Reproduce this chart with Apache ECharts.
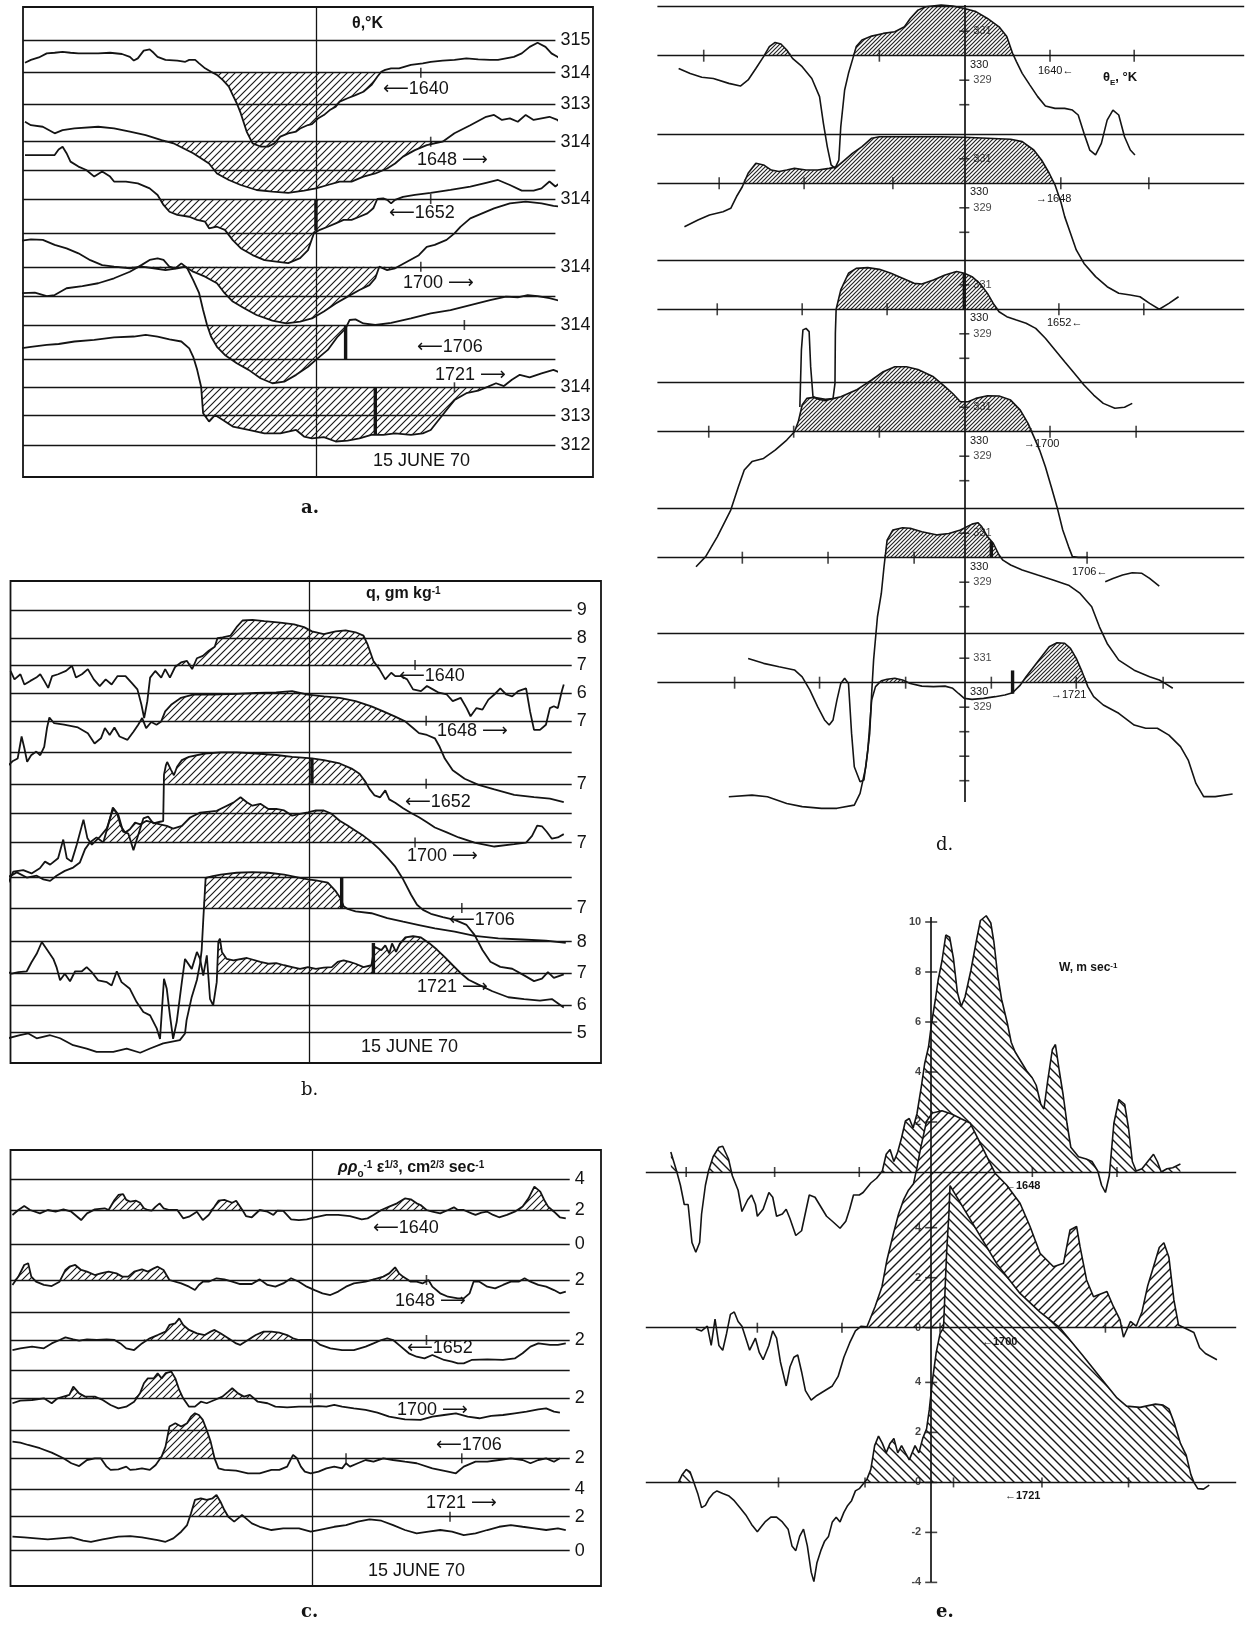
<!DOCTYPE html>
<html><head><meta charset="utf-8">
<script src="https://cdn.jsdelivr.net/npm/echarts@6/dist/echarts.min.js"></script>
<style>html,body{margin:0;padding:0;background:#fff}#c{width:1246px;height:1626px}</style>
</head><body><div id="c"></div><script>
// ---------------- DATA ----------------
const TIMES = ['1640','1648','1652','1700','1706','1721'];
const A_LABELS = ['315','314','313','314','','314','','314','','314','','314','313','312'];
const B_LABELS = ['9','8','7','6','7','','7','','7','','7','8','7','6','5'];
const C_LABELS = ['4','2','0','2','','2','','2','','2','4','2','0'];

// panel a: potential temperature (K)
const A_1640_X = [0.5,2,4,6,8,10,12,14,16,19,22,25,27,28,29,30.5,32,33,34,36,39,41,42,43.5,44.5,46,47.5,49,50.5,52,53,54,55,56.5,58,60,62,63.5,65,67,69,70,72,73,74.5,76,77.5,79,80,82,84,86,88,89.5,90.5,91.5,93,95,98,101,103,106,109,112,115,118,120,122,124,126,128,130,132,133.5,135,136.5];
const A_1640_T = [314.32,314.41,314.49,314.62,314.64,314.67,314.64,314.62,314.62,314.62,314.64,314.60,314.51,314.39,314.46,314.71,314.75,314.64,314.51,314.41,314.39,314.35,314.41,314.41,314.30,314.14,314.03,313.93,313.76,313.55,313.28,313.02,312.70,312.11,311.73,311.63,311.63,311.73,311.95,312.05,312.11,312.21,312.32,312.35,312.53,312.64,312.80,312.91,313.07,313.18,313.28,313.39,313.60,313.87,314.03,314.09,314.14,314.14,314.25,314.30,314.35,314.39,314.41,314.46,314.43,314.41,314.41,314.46,314.51,314.62,314.83,314.96,314.83,314.62,314.51,314.41];
const A_1648_X = [0.5,2,5,8,10,13,19,23,27,31,35,38,43,47,49,52,55,59,63,67,71,74,77,80,83,86,89,92,94,96,99,102,104,106,109,113,117,119,121,123,125,127,129,131,133,135,136.5];
const A_1648_T = [314.64,314.53,314.48,314.27,314.37,314.43,314.48,314.43,314.32,314.21,314.05,313.95,313.63,313.30,312.98,312.77,312.61,312.45,312.40,312.36,312.43,312.50,312.61,312.72,312.72,312.88,312.98,313.14,313.30,313.52,313.73,313.89,313.95,314.00,314.27,314.53,314.80,314.86,314.70,314.75,314.64,314.86,314.70,314.75,314.80,314.70,314.53];
const A_1652_X = [0.5,8,9,10,11,12,14,16,18,20,22,23,26,29,32,34,35.5,37,39,42,44,46,47,49,51,53,55,58,61,64,67,70,72,73.5,75,77,79,81,83,85,87,88.5,89.5,91,92,93,94,96,99,103,108,113,117,120,123,126,129,131,133,134.5,136.5];
const A_1652_T = [315.41,315.41,315.59,315.68,315.47,315.20,315.04,314.93,314.72,314.88,314.72,314.56,314.56,314.50,314.34,314.13,313.81,313.59,313.49,313.43,313.33,313.27,313.06,313.11,313.01,312.68,312.42,312.20,312.04,311.99,311.94,312.10,312.36,312.90,313.01,313.11,313.22,313.33,313.33,313.43,313.54,313.70,314.00,314.02,313.97,313.86,313.97,314.07,314.13,314.20,314.29,314.40,314.52,314.61,314.45,314.27,314.27,314.34,314.56,314.40,314.61];
const A_1700_X = [-0.5,2,5,8,11,14,17,20,23,27,30,33,36,39,41,43,46,49,51,53,56,59,63,66.5,70,73,76,79,82,85,87.5,89,90,90.5,92,94,97,100,102,104,107,109,110.5,113,116,119,123,127,131,134,136];
const A_1700_T = [314.83,314.88,314.86,314.70,314.59,314.43,314.21,314.05,314.0,313.95,314.0,313.95,313.89,313.95,314.0,313.84,313.68,313.47,313.14,312.88,312.66,312.45,312.27,312.18,312.24,312.34,312.56,312.82,313.04,313.25,313.41,313.63,314.0,314.05,313.89,313.95,314.16,314.37,314.64,314.70,314.86,315.07,315.28,315.55,315.71,315.87,316.03,316.09,316.03,315.95,315.93];
const A_1706_X = [-0.5,3,6,8,11,15,19,23,27,30,32,34,35.5,37,38.5,40,41.5,43,44.5,45.5,46.5,47.5,49,51,54,57,60,63,66,69,72,74,77,79.5,81.5,82.5,84,86,89,93,98,103,108,113,118,122,125,127.5,130,133,136.5];
const A_1706_T = [315.02,315.04,314.93,314.96,315.18,315.25,315.34,315.50,315.71,315.93,316.09,316.14,316.09,315.87,315.82,315.98,315.82,315.44,315.02,314.48,314.0,313.63,313.30,313.04,312.77,312.56,312.29,312.13,312.18,312.40,312.66,312.88,313.20,313.63,313.89,314.16,314.18,314.05,314.0,314.07,314.21,314.37,314.48,314.64,314.80,314.91,314.89,314.96,314.93,314.86,314.75];
const A_1721_X = [-0.5,2,6,9,13,18,23,28,31,34,37,40,42,43,44,45,45.5,47,48.5,50.5,53,57,61,65,69,71,73,76,79,82,85,88,91,94,98,101,103,105,107,109,112,115,117.5,119.5,121.5,123.5,125.5,128,131,134,136.5];
const A_1721_T = [315.25,315.30,315.36,315.39,315.47,315.52,315.60,315.63,315.68,315.63,315.54,315.47,315.25,314.98,314.56,314.02,313.17,312.90,313.11,312.95,312.74,312.63,312.52,312.52,312.63,312.42,312.36,312.40,312.26,312.29,312.36,312.47,312.47,312.52,312.47,312.52,312.63,312.95,313.27,313.59,313.81,313.89,314.02,314.13,314.04,314.24,314.40,314.32,314.45,314.56,314.43];
const A_TICKS = [[100.5],[103],[103],[100.5],[111.5],[109]];
const A_BARS = [null,null,[74,314,313.0],null,[81.5,314,312.9],[89,314,312.47]];

// panel b: specific humidity (g/kg)
const B_1640_X = [0,1,2.5,3.5,5,6.5,7.5,8.5,9.5,10.5,12,14,15.5,16.5,18,19.5,21,22.5,24,25.5,27,29,30.5,32,33,33.7,34.5,35.2,36.5,38,39,40.2,41.5,43,44.5,45.8,47,48.5,50,51.5,52.2,53.5,55.5,57,58.5,61,64,68,71.5,74,76,79,82,84.5,87,89,90,91.5,93,94.5,96,97,98.5,100,101.5,103.5,105,106.5,108,110,111.5,113.5,115,116,117.5,119,120.5,122,123.5,125,126.5,128,130,131,132,133.5,135,136,137,138,139,139.5];
const B_1640_Q = [6.80,6.52,6.69,6.35,6.47,6.58,6.69,6.47,6.24,6.63,6.69,6.80,6.97,6.58,6.69,6.86,6.52,6.30,6.52,6.35,6.63,6.63,6.41,6.19,5.69,5.24,5.80,6.58,6.80,6.58,6.86,6.58,6.93,7.08,7.13,6.86,7.22,7.30,7.47,7.60,7.89,7.91,7.97,8.25,8.47,8.49,8.45,8.40,8.34,8.25,8.11,8.02,8.11,8.14,8.08,7.97,7.69,7.13,6.86,6.52,6.74,6.63,6.63,6.52,6.19,6.13,6.30,6.19,6.08,6.02,5.80,5.91,5.57,5.30,5.57,5.52,5.85,6.02,6.22,6.02,5.96,6.13,6.22,5.46,4.85,4.85,5.02,5.57,5.63,5.57,6.13,6.35];
const B_1648_X = [-0.5,0.5,1.8,2.8,3.5,4.2,5.2,6.5,7.5,8.5,9.2,9.8,11,13.5,17,19.5,21.2,22.8,23.8,25,26.2,27.5,29.5,31,32.2,33.2,34.2,35.5,36.8,38,39,40.5,43,46,51,57,62,67,71,75,79,83,87,91,94,97,99.5,101.5,103,105,107,108.2,109.5,111.5,114.5,118,122,127,132,136,139.5];
const B_1648_Q = [5.53,5.66,5.75,6.48,6.09,5.64,5.86,5.98,5.86,6.14,6.76,7.11,6.92,6.87,6.78,6.59,6.25,6.42,6.76,6.53,6.78,6.48,6.37,6.64,6.87,7.09,6.76,6.96,6.87,6.98,7.31,7.53,7.76,7.87,7.87,7.89,7.92,7.94,7.98,7.87,7.81,7.76,7.65,7.48,7.31,7.14,6.98,6.76,6.59,6.53,6.42,6.14,5.75,5.36,5.08,4.88,4.73,4.55,4.47,4.42,4.31];
const B_1652_X = [-0.9,0.7,3.2,5.3,7.4,8.7,10,12,13.3,14.2,15.4,16.7,18.4,19.4,20.5,22.6,24.3,25.9,27.2,28.4,29.7,31,32.2,33.5,34.7,36,37.7,38.5,38.7,39.2,39.5,40.5,41.2,42,43.2,45,49,53,57,62,67,71,76,79,83,86,88,89.5,90.5,91.8,93.2,94.5,95.5,97,99,101,103,105,107,110,113,117,122,127,130,131.5,132.8,134,135.2,136.5,138,139.5];
const B_1652_Q = [3.62,4.09,4.14,4.03,4.20,4.42,4.32,4.53,5.15,4.53,4.42,4.98,5.81,5.19,4.98,5.25,5.52,6.18,5.96,5.41,5.35,4.80,5.30,5.85,5.91,5.69,5.74,5.76,7.30,7.62,7.72,7.45,7.28,7.56,7.78,7.89,8.00,8.04,8.04,8.00,7.95,7.89,7.84,7.78,7.67,7.50,7.33,7.06,6.83,6.61,6.55,6.78,6.48,6.37,6.19,6.03,5.89,5.72,5.55,5.39,5.22,5.05,4.92,5.00,5.05,5.27,5.61,5.59,5.41,5.18,5.22,5.33];
const B_1700_X = [-0.8,1.6,4.1,6.6,8.3,10,11.6,13.7,15.8,17.5,18.8,20,21.7,23.4,24.7,25.8,26.8,27.8,28.9,30.1,31.4,32.7,34.3,36,37.7,39.4,41,43.2,45.3,47.8,52,56.2,58,59.5,61,63,65,67,69,71,73,75,77,79,81,83,85,87,89,91,93,95,97,99,101,102.5,104,106,109,112,115,117,119,121,123.5,126.5,129.5,132,134,135.5,137,139.5];
const B_1700_Q = [5.84,6.01,5.84,5.90,5.78,5.73,5.90,6.06,6.17,6.34,6.78,7.00,7.17,7.00,7.61,8.16,7.99,7.55,7.33,7.44,7.66,7.60,7.72,7.66,7.60,7.55,7.46,7.55,7.83,7.99,8.05,8.32,8.50,8.34,8.22,8.28,8.11,8.11,8.06,7.89,7.95,8.00,8.06,8.06,7.95,7.72,7.56,7.39,7.22,7.02,6.78,6.50,6.20,5.78,5.27,4.94,4.77,4.64,4.53,4.44,4.27,3.94,3.44,3.05,2.88,2.82,2.60,2.41,2.49,2.71,2.52,2.63];
const B_1706_X = [-0.6,2.4,4.5,6.6,10,12.5,15.8,19.2,21.7,25.9,29.3,32.7,35.2,38.5,42.7,44,44.4,45.7,47,47.8,48.2,48.6,49.2,51,53,57,61,65,69,73,75,77,80,82,83.2,84,85,87,91,95,99,103,107,112,117,123,129,135,140];
const B_1706_Q = [2.69,2.79,2.85,2.69,2.79,2.69,2.46,2.35,2.24,2.24,2.35,2.21,2.35,2.52,2.63,2.85,3.29,4.06,4.62,5.17,5.61,6.60,8.00,8.06,8.11,8.17,8.19,8.17,8.11,8.00,7.95,7.92,7.84,7.56,7.33,7.06,6.97,6.89,6.83,6.67,6.55,6.44,6.33,6.22,6.08,6.00,5.96,5.92,5.85];
const B_1721_X = [-1,0.3,2,4.1,5.3,6.6,7.9,9.1,10.8,11.6,12.5,13.7,15,16.3,18,19.2,20.5,22.1,24.3,25.5,26.8,28,30.1,31.8,33.5,35.2,36.9,37.7,38.7,39.4,40.2,41,41.9,43.2,44,45.7,47,47.8,48.6,49.5,50.3,51.1,52,52.4,52.8,53.3,54.5,56.2,59.6,63,65,67,69,71,73,75,77,79,81,82.5,84,85.5,87,89,91,91.8,93.5,94.5,95.5,96.2,97.2,98.2,99.5,101.5,103.5,105.5,107.5,109.5,111.5,113.5,115.5,118,121.5,125.5,129.5,133.5,136.5,138,139.5];
const B_1721_Q = [7.06,6.98,7.03,7.06,7.36,7.64,8.03,7.80,7.47,7.20,6.76,6.98,6.73,7.06,7.06,7.20,7.03,6.76,6.70,6.59,7.06,6.70,6.48,6.04,5.71,5.60,5.16,4.82,6.81,6.48,5.60,4.82,5.38,6.70,7.47,7.14,7.70,7.47,6.92,7.59,6.15,5.93,6.70,8.03,8.14,7.70,7.47,7.42,7.50,7.37,7.31,7.33,7.26,7.20,7.14,7.20,7.14,7.18,7.20,7.37,7.42,7.37,7.31,7.20,7.26,7.87,7.76,7.92,7.65,7.98,7.70,7.98,8.18,8.22,8.18,8.00,7.78,7.53,7.26,7.00,6.78,6.62,6.40,6.20,6.14,6.09,6.14,6.00,5.86];
const B_TICKS = [[102],[104.8],[104.8],[102],[113.8],[]];
const B_BARS = [null,null,[76,7,7.84],null,[83.5,7,8.0],[91.5,7,8.0]];
const B_HATCH = [null,[[38,100]],[[38.5,92]],[[23,92]],[[48,84]],[[52.3,114]]];

// panel c: dissipation parameter
const C_1640_X = [0.5,2,3.5,5,7.5,9.5,11.5,13.5,15.5,18,19.5,21.5,24,25,26.5,27.5,28.7,29.5,30.5,32,33,34,35,36,37,38,39,40.5,42.5,44,45.5,47.5,49,50.5,52,53,54.5,56.5,57.5,59,60,61.5,63.5,65.5,67,68,69.5,71.5,73.5,75.5,77.5,80.5,83.5,86.5,89.5,91,92.5,94.5,96.5,98.5,100.5,102,103.5,104.5,106,107.5,109.5,111.5,113,114,115.5,117.5,118.5,120,121.5,123,124.5,126.5,128.5,130.5,132,133.5,135,136,137,138.5,140,141.5];
const C_1640_V = [1.68,2.00,2.26,2.00,1.78,2.00,1.89,2.04,1.89,1.35,1.78,2.04,2.11,2.00,2.65,2.97,3.03,2.65,2.54,2.60,2.47,2.11,2.00,1.96,2.22,2.43,2.11,2.00,2.00,1.46,1.57,1.89,1.35,1.68,2.22,2.60,2.65,2.47,2.60,2.04,1.61,1.53,2.00,1.89,1.68,1.96,1.94,1.40,1.35,1.40,1.53,1.68,1.68,1.61,1.40,1.46,1.68,2.00,2.22,2.43,2.75,2.69,2.43,2.32,2.00,1.89,1.78,2.00,2.17,2.00,2.00,1.78,1.68,1.83,1.89,1.68,1.53,1.68,1.89,2.22,2.75,3.51,3.19,2.65,2.22,1.89,1.53,1.46];
const C_1648_X = [0.5,2,3.5,4.5,5.3,6.5,8.5,10.5,12.5,14,15,16.5,18,19.5,21.5,23,25,27,28.5,30,31.5,33.5,35,36.5,37.5,39,40.5,43.5,45.5,47,48,49,50.5,52.5,54.5,56.5,58.5,61.5,63.5,65.5,67.5,69.5,71.5,73.5,75.5,77.5,79.5,81.5,83.5,85.5,87.5,90.5,93.5,95,96.5,98,99,100,102,103.5,105,106.5,107.5,109.5,111.5,114,115.5,117,118,119.5,121.5,123.5,125.5,127.5,129.5,131,132.5,134.5,136.5,138.5,140,141.5];
const C_1648_V = [1.68,2.22,2.97,3.08,2.22,1.89,1.68,1.61,1.89,2.65,2.86,2.97,2.65,2.54,2.32,2.43,2.54,2.43,2.22,2.22,2.54,2.69,2.54,2.75,2.86,2.65,2.00,1.78,1.57,1.35,1.68,1.89,1.89,2.11,2.04,1.89,1.74,1.74,2.04,1.68,1.57,1.78,2.11,1.89,1.57,1.35,1.14,1.03,1.25,1.57,1.78,1.89,2.11,2.22,2.43,2.82,2.43,2.22,1.89,1.89,1.78,2.00,1.57,1.14,0.92,0.81,0.81,1.14,1.89,1.89,1.57,1.46,1.68,1.89,1.89,2.11,1.89,1.68,1.57,1.35,1.14,1.25];
const C_1652_X = [0.5,2.5,5.5,8.5,10.5,12.5,14,16,17.5,19.5,22,24.5,26.5,28,29.5,31.5,33.5,35.5,37.5,39.5,40.5,42,43,44,45.5,47.5,49.5,51,52,53.5,55.5,57.5,58.5,60.5,62.5,64.5,66.5,68.5,70.5,72,73.5,76.5,77.5,79,81.5,84.5,87.5,90.5,92.5,94.5,96,97.5,99.5,101.5,103.5,105.5,107.5,110.5,112.5,114,115.5,117.5,121.5,125.5,128.5,130.5,132.5,134.5,137.5,139.5,141.5];
const C_1652_V = [1.35,1.46,1.57,1.46,1.78,2.00,2.17,2.04,1.96,2.04,2.00,2.04,2.00,1.78,1.46,1.35,1.78,2.11,2.32,2.54,2.97,3.08,3.40,2.97,2.65,2.43,2.32,2.54,2.65,2.43,2.11,1.78,1.68,2.00,2.32,2.54,2.54,2.47,2.32,2.11,2.00,2.00,1.96,1.68,1.46,1.35,1.35,1.57,1.78,2.00,2.11,2.00,1.57,1.14,0.92,0.81,1.03,0.71,0.60,0.49,0.49,0.71,0.75,0.71,0.81,1.14,1.57,1.78,1.68,1.68,1.78];
const C_1700_X = [0.5,2.5,5.5,8.5,10.5,12,13.5,15,16,17.5,19,21.5,23.5,25.5,27.5,29.5,31.5,33,34,35,36.5,37.5,38.5,39.5,41,42,43,44,45.5,47,48.5,50,52,54,55.5,56.5,58,59.5,61,62,63,65.5,67.5,70.5,73.5,76.5,78.5,80.5,82.5,84.5,87.5,90.5,93.5,96.5,100.5,104.5,107.5,110.5,113.5,116.5,119.5,122.5,125.5,128.5,131.5,134.5,136.5,138.5,140];
const C_1700_V = [1.68,1.85,1.89,2.00,1.68,2.00,2.11,2.22,2.75,2.32,2.11,2.11,1.89,1.57,1.35,1.46,1.78,2.32,2.97,3.29,3.29,3.62,3.29,3.62,3.72,3.29,2.54,2.00,1.46,1.46,1.78,1.68,1.89,2.11,2.43,2.65,2.32,2.11,2.22,2.00,1.78,1.68,1.46,1.42,1.46,1.46,1.50,1.46,1.57,1.46,1.35,1.25,1.07,0.81,0.64,0.60,0.81,0.92,1.03,0.81,0.71,0.86,0.92,1.03,1.14,1.29,1.35,1.14,1.07];
const C_1706_X = [0.5,2.5,4.5,7.5,10.5,13.5,15.5,17.5,19.5,21.5,23,24.5,25.5,27.5,29.5,30.5,32,33.5,35.5,37,38.5,39.5,40.5,42,43.5,45,46,47,48,49,50,51,52,53,54.5,57.5,60.5,63.5,66.5,68.5,70.5,72,73,74,75,76.5,78.5,80.5,82.5,84.5,85.5,86.5,88.5,90.5,92.5,95,97.5,100.5,103.5,107.5,111.5,113.5,115.5,118.5,121.5,124.5,127.5,130.5,132.5,134.5,136.5,138.5,140];
const C_1706_V = [3.08,3.01,2.86,2.65,2.37,2.00,1.68,1.50,1.89,2.00,2.00,1.46,1.25,1.29,1.46,1.25,1.29,1.35,1.25,1.57,2.11,2.75,4.05,4.26,4.05,4.26,4.69,4.91,4.80,4.48,3.83,3.08,2.00,1.35,1.25,1.20,1.03,1.03,1.25,1.25,1.46,2.22,2.00,1.46,1.14,1.03,1.14,1.35,1.46,1.35,1.68,1.46,1.68,1.89,1.78,2.00,1.89,1.78,1.68,1.35,1.14,1.03,1.46,1.78,1.78,1.89,2.00,1.89,1.68,1.89,2.00,1.78,2.00];
const C_1721_X = [0.5,3.5,6.5,9.5,12.5,15.5,18.5,20.5,23.5,27.5,30.5,33.5,37.5,39.5,41.5,43.5,45,46,47,48.5,50,51.5,52.5,53.5,54.5,55.5,57,58,59,60,61.5,63.5,66.5,69.5,73.5,76.5,78.5,82.5,85.5,88.5,91.5,94.5,97.5,100.5,103.5,106.5,109.5,112.5,115.5,118.5,121.5,124.5,127.5,130.5,133.5,136.5,139.5,141.5];
const C_1721_V = [0.71,0.66,0.60,0.53,0.60,0.66,0.45,0.38,0.53,0.71,0.75,0.66,0.49,0.38,0.60,1.03,1.46,2.22,3.08,3.19,3.08,3.19,3.40,2.97,2.43,2.00,1.68,1.89,2.11,1.89,1.57,1.35,1.14,1.25,1.25,1.03,1.14,1.35,1.46,1.68,1.83,1.74,1.46,1.14,0.92,1.03,1.14,1.03,0.81,0.92,1.14,1.35,1.46,1.35,1.25,1.14,1.25,1.14];
const C_TICKS = [[],[106],[106],[76.5],[85.5,115],[112]];
const C_HATCH = [[[25,35],[51.5,59],[94.5,106],[129,137.5]],[[0,6],[13,41],[93,101]],[[35,58],[60,74]],[[13,22],[32,44.5],[54,63]],[[38,52.5]],[[45,56]]];

// panel d: equivalent potential temperature (K)
const D_1640_X = [5.5,8.5,11.5,14.5,18.5,21.5,23.5,25.5,27.5,29,30.5,32,33.5,35,37.5,40,42,43,44,45,46,47,47.5,48.5,49.5,50.5,51.5,53,55.5,58.5,61.5,64,65.5,67.5,69.5,73.5,76.5,79.5,82.5,85.5,88.5,90.5,92,93,94.5,96.5,98.5,100.5,103,105.5,107.5,109,110.5,112,113.5,115,116.5,118,119.5,121,122.5,123.7];
const D_1640_T = [329.48,329.27,329.12,329.07,328.87,328.76,329.01,329.48,329.96,330.37,330.54,330.48,330.23,329.89,329.55,329.07,328.33,327.24,326.29,325.54,325.40,325.74,327.10,328.60,329.28,329.82,330.37,330.64,330.80,330.91,330.98,331.18,331.52,331.86,332.00,332.07,332.03,331.93,331.80,331.52,331.18,330.78,330.10,329.76,329.28,328.80,328.33,327.95,327.85,327.85,327.78,327.58,326.83,326.15,325.95,326.42,327.37,327.78,327.58,326.69,326.15,325.95];
const D_1648_X = [7,10.5,13.5,17,19,20.5,22,23.5,25.5,27.5,29.5,31.5,33.5,35.5,38.5,41.5,44.5,46.5,48.5,50.5,53,55.5,57.5,65.5,73.5,79.5,85.5,91.5,94.5,97.5,99.5,101.5,103,104.5,105.5,107,108.5,110.5,113.5,116.5,119.5,122.5,125,127.5,130,132.5,135];
const D_1648_T = [328.23,328.50,328.71,328.84,328.98,329.46,329.86,330.41,330.82,330.75,330.54,330.48,330.54,330.61,330.54,330.54,330.61,330.68,330.95,331.22,331.50,331.84,331.90,331.90,331.90,331.88,331.84,331.80,331.70,331.36,330.95,330.41,329.93,329.25,328.64,327.96,327.28,326.73,326.19,325.78,325.51,325.44,325.37,325.10,324.86,325.10,325.37];
const D_1652_X = [36.9,37.3,37.7,38.5,39.3,39.7,40.3,41.5,43.5,45.5,46,46.1,46.3,47.5,49.5,51.5,54.5,57.5,60.5,63.5,66.5,68.5,71.5,74.5,77.5,79.5,81.5,83.5,85.5,87,88.5,90.5,93,95.5,98,100.5,103,105.5,108,110.5,113,115.5,118.5,121,123];
const D_1652_T = [326.01,328.34,329.16,329.22,329.09,327.66,326.44,326.34,326.27,326.37,326.98,329.02,330.00,330.79,331.47,331.67,331.70,331.63,331.47,331.27,331.06,331.03,331.20,331.40,331.54,331.47,331.33,331.06,330.65,330.24,329.90,329.70,329.56,329.43,329.22,328.82,328.34,327.86,327.39,326.91,326.50,326.16,325.96,326.00,326.16];
const D_1700_X = [10,12.5,15.5,19,21,22.5,24.5,27.5,30.5,33.5,35.5,36.5,37.5,38.7,40.5,43.5,45.5,47.5,51.5,55.5,58.5,61.5,64.5,67.5,71.5,74.5,76.5,78.5,80.5,82.5,85.5,88.5,91.5,94,96,97.5,99,100.5,102,103.5,105,106.5,107.5,109,111.5];
const D_1700_T = [324.49,324.90,325.71,326.80,327.76,328.44,328.78,328.91,329.25,329.66,330.00,330.41,331.09,331.36,331.40,331.32,331.35,331.43,331.70,332.11,332.45,332.65,332.65,332.54,332.24,331.84,331.56,331.22,331.22,331.36,331.47,331.46,331.29,330.88,330.34,329.80,329.25,328.57,327.76,326.94,325.99,325.31,324.90,324.87,324.87];
const D_1700B_X = [116,118,120.5,123,125.5,127.5,130];
const D_1700B_T = [323.88,324.01,324.15,324.24,324.22,324.01,323.70];
const D_1706_X = [18.5,24.5,28.5,33.5,37.5,42.5,46.5,51,52.5,54,55,55.5,56,57,58,58.7,59.5,61,63.5,65.5,68.5,72.5,75.5,78.5,81.5,83,84,85.5,87,88.5,89.5,91.5,94.5,98.5,102.5,106.5,109.5,112.5,114.5,116.5,119.5,123.5,127.5,130,131.5,133.5];
const D_1706_T = [320.24,320.31,320.24,319.97,319.84,319.77,319.77,319.90,320.38,321.47,322.83,324.46,325.82,327.59,328.54,329.63,330.72,331.13,331.22,331.20,331.06,330.93,330.99,331.13,331.37,331.43,331.27,330.86,330.59,330.11,329.90,329.70,329.50,329.29,329.09,328.88,328.54,328.00,327.18,326.50,325.82,325.41,325.14,325.01,324.87,324.67];
const D_1721_X = [23.5,27.5,31.5,35.5,37.5,39.5,41.5,43.3,44.5,45.5,46.5,47.5,48.5,49.5,50.3,51,52.5,53.5,54.5,55.5,56.5,58,59.5,61.5,63.5,65.5,68.5,71.5,74.5,76.5,78,79.5,81.5,84.5,87.5,90,92,94,95.5,97.5,99.5,101.5,103.5,105.5,107,108.5,110,111.5,113,115.5,119.5,123.5,126.5,129.5,132.5,135.5,137.5,139.5,141.5,144.5,149];
const D_1721_T = [330.99,330.79,330.65,330.52,330.24,329.70,329.02,328.48,328.27,328.48,329.29,329.97,330.18,329.97,327.93,326.57,325.96,326.03,327.25,329.29,329.84,330.08,330.14,330.18,330.11,329.97,329.86,329.84,329.86,329.77,329.56,329.36,329.32,329.36,329.43,329.50,329.59,329.90,330.24,330.65,331.06,331.47,331.63,331.61,331.40,330.99,330.45,329.84,329.43,329.09,328.75,328.27,328.14,328.14,327.86,327.39,326.84,325.89,325.35,325.35,325.46];
const D_TICKS = [[12,57.5,101.7,123.5],[16,38,61,104.5,127.3],[15.5,37.5,59.5,104,126],[13.3,35.3,57.5,101.7,124],[22,44.2,66.5,111.3],[20,42,64.3,86.5,108.5,131]];
const D_BARS = [null,null,[79.5,330,331.47],null,[86.5,330,330.65],[92,329.55,330.5]];
const D_HATCH = [null,null,null,null,null,[[57,65],[94,112]]];
const D_AXIS = [[331,329,328],[331,329,328],[331,329,328],[331,329,328],[331,329,328],[331,329,328,327,326]];

// panel e: vertical velocity (m/s)
const E_TIMES = ['1648','1700','1721'];
const E_1648_X = [6.5,8,9,10,11,12,13,14,14.5,15.5,16.3,17.5,19,20,21.5,22.5,24,25,26.5,27.5,28.5,29,30.5,32,33,34,35.5,36.5,37.5,39,40.5,41.7,42.5,44,45.5,47,48.5,50.5,52,53,54,55.5,56.5,57.5,58.5,60,61.5,62.5,63.5,64.5,65.5,66.5,67.5,68.5,69.5,70.5,71.5,72.5,73.5,74.3,75.3,76,77,78,79,80,81,82,83,84.5,86,87,88.5,89.7,90.5,91.5,92.5,94,95,96,97.5,99,100.5,101.5,102.7,103.5,104.5,105.7,106.5,107.5,108.5,109.5,110.5,112.5,114.5,116,117.5,118.5,119.5,120.5,121.7,123,124.5,125.5,126.5,127.5,129,130.5,132,133,134,135.5,137,139];
const E_1648_W = [0.80,0.04,-0.53,-1.30,-1.30,-2.82,-3.21,-2.82,-1.68,-0.53,0.04,0.61,0.99,1.03,0.52,-0.15,-0.73,-1.58,-1.11,-0.92,-1.30,-1.77,-1.49,-0.82,-1.01,-1.77,-1.68,-1.49,-1.87,-2.54,-2.35,-1.49,-0.92,-1.01,-1.39,-1.77,-1.97,-2.25,-1.97,-1.49,-0.92,-0.92,-0.82,-0.63,-0.44,-0.25,0.04,0.71,0.90,0.42,0.80,1.37,2.04,2.14,1.76,2.33,3.28,4.33,5.00,5.95,6.91,7.67,8.44,9.48,9.39,8.53,7.19,6.62,7.00,8.05,9.29,10.06,10.25,9.96,9.20,7.86,6.91,5.95,5.19,4.81,4.43,4.05,3.76,3.47,2.71,2.52,3.66,4.90,5.10,4.05,3.09,1.95,0.99,0.61,0.52,0.42,0.04,-0.53,-0.82,-0.15,1.95,2.90,2.71,1.76,0.42,0.04,0.13,0.42,0.71,0.42,0.00,0.13,0.17,0.32];
const E_1700_X = [13,14.5,16,17,18,19,20,21,22,23,24,25,26,27,28.5,29.5,30.5,32,33,34,35,36.5,37.5,38.5,39.5,40.5,41.5,43,44.5,46.5,48.5,50,51.5,53,54.5,56,57.5,59.6,61.4,62.7,64.4,65.7,67,68.3,69.6,70.4,71.5,73,74.5,77,79.5,82,84.3,87.5,90.8,93.8,97.3,99.9,102.5,106,108.6,110.3,112,112.9,114.6,116.4,119.9,121.6,123.3,124.2,126,127.5,129,130.5,132,133.5,134.7,136,137.3,138.5,140.5,142.5,144,145.5,148.5];
const E_1700_W = [-0.04,-0.13,0.06,-0.71,0.34,-0.71,-0.90,-0.23,0.53,0.63,0.25,0.06,-0.42,-0.90,-0.42,-0.99,-1.28,-0.71,-0.13,-0.42,-1.37,-2.33,-1.56,-1.18,-1.09,-1.76,-2.52,-2.90,-2.71,-2.52,-2.33,-1.95,-1.18,-0.61,-0.13,0.06,0.04,0.84,1.64,2.71,3.78,4.54,5.11,5.50,5.76,6.32,7.21,8.26,8.59,8.68,8.55,8.36,8.19,7.21,6.18,5.71,4.98,4.05,2.98,2.44,2.58,3.91,4.05,3.24,1.91,1.24,1.45,0.84,0.31,-0.38,0.25,0.06,0.63,1.68,2.44,3.21,3.40,2.82,1.11,0.11,-0.04,-0.19,-0.80,-1.03,-1.28];
const E_1721_X = [8.5,9.5,10.5,11.5,12.5,13.5,14.5,15.5,16.5,17.5,18.5,20,21.5,23,24.5,26,27.5,29,30,31,32.5,34,35.5,37,38,39,40,41,42,43,43.7,44.5,45.5,46.5,47.5,48.5,49.5,50.5,51.5,52.5,53.5,54.5,55.5,56.5,57.5,58.5,59.5,60.5,61.5,62.5,63.5,64.5,65.5,66.5,67.5,68.5,70,71,72,73,73.7,74.5,75.5,76.5,77.4,78.2,78.8,79.1,91.2,97.3,102.5,107.7,113.5,118.5,122.5,125,128.5,132.5,134.5,136,137.5,139,140.5,141.7,142.5,143.5,145,146.5];
const E_1721_W = [0,0.32,0.52,0.42,0,-0.44,-1.01,-0.92,-0.63,-0.44,-0.34,-0.44,-0.53,-0.73,-1.01,-1.30,-1.68,-1.97,-1.77,-1.58,-1.39,-1.39,-1.58,-1.87,-2.54,-2.73,-2.16,-1.87,-2.54,-3.59,-3.97,-3.21,-2.73,-2.35,-2.16,-1.58,-1.39,-1.58,-1.20,-0.92,-0.73,-0.34,-0.25,-0.06,0.13,0.52,1.47,1.85,1.56,1.18,1.56,1.76,1.18,1.47,1.18,0.90,1.47,1.18,1.76,2.14,2.90,4.05,5.19,5.95,6.18,9.16,10.73,11.87,8.76,7.56,6.81,6.18,5.10,4.14,3.38,3.05,3.00,3.13,3.09,2.94,2.33,1.56,1.09,0.32,0,-0.25,-0.27,-0.11];
const E_TICKS = [[10.5,33.5,55.5,100.5,122.5],[29,51,76.5,119.5],[34.5,57,80,103,125.5]];
const E_AXIS = [[10,8,6,4,2],[4,2,0],[4,2,0,-2,-4]];
const E_HATCH = [null,[[57,139]],null];

// ---------------- BUILD ----------------
const FONT = "'Liberation Sans','DejaVu Sans',sans-serif";
const INK = '#141414';
const grids = [], xAxes = [], yAxes = [], series = [], graphics = [];

function hatch(tile, dir, lw, col, bg) {
  const c = document.createElement('canvas');
  c.width = tile; c.height = tile;
  const g = c.getContext('2d');
  if (bg) { g.fillStyle = bg; g.fillRect(0, 0, tile, tile); }
  g.strokeStyle = col; g.lineWidth = lw;
  g.beginPath();
  if (dir > 0) {
    g.moveTo(-1, tile + 1); g.lineTo(tile + 1, -1);
    g.moveTo(-2, 2); g.lineTo(2, -2);
    g.moveTo(tile - 2, tile + 2); g.lineTo(tile + 2, tile - 2);
  } else {
    g.moveTo(-1, -1); g.lineTo(tile + 1, tile + 1);
    g.moveTo(tile - 2, -2); g.lineTo(tile + 2, 2);
    g.moveTo(-2, tile - 2); g.lineTo(2, tile + 2);
  }
  g.stroke();
  return { image: c, repeat: 'repeat' };
}
function inIv(x, iv) { return !iv || iv.some(r => x >= r[0] && x <= r[1]); }

function addTrace(xi, gi, yMin, yMax, tr, o) {
  const yi = yAxes.length;
  yAxes.push({ gridIndex: gi, type: 'value', min: yMin, max: yMax, show: false });
  const n = Math.min(tr.x.length, tr.v.length);
  const d = [], h = [];
  for (let i = 0; i < n; i++) {
    const dv = tr.v[i] - o.base;
    d.push([tr.x[i], dv]);
    const hv = inIv(tr.x[i], tr.hatch) ? (o.below ? Math.min(dv, 0) : Math.max(dv, 0)) : 0;
    h.push([tr.x[i], hv]);
  }
  series.push({ type: 'line', xAxisIndex: xi, yAxisIndex: yi, data: h, symbol: 'none', showSymbol: false, clip: false, silent: true,
    lineStyle: { width: 0, opacity: 0 }, areaStyle: { color: tr.pattern, opacity: 1 }, z: 1, animation: false });
  const ls = { type: 'line', xAxisIndex: xi, yAxisIndex: yi, data: d, symbol: 'none', showSymbol: false, clip: false, silent: true,
    lineStyle: { color: INK, width: o.lw || 1.8 }, z: 4, animation: false };
  if (o.hlines) ls.markLine = { silent: true, symbol: ['none', 'none'], animation: false, label: { show: false },
    lineStyle: { color: INK, width: 1.4, type: 'solid' }, data: o.hlines.map(v => ({ yAxis: v })) };
  series.push(ls);
  (tr.extra || []).forEach(seg => {
    series.push({ type: 'line', xAxisIndex: xi, yAxisIndex: yi, data: seg.x.map((x, i) => [x, seg.v[i] - o.base]),
      symbol: 'none', clip: false, silent: true, lineStyle: { color: INK, width: o.lw || 1.8 }, z: 4, animation: false });
  });
  if (tr.ticks && tr.ticks.length) series.push({ type: 'scatter', xAxisIndex: xi, yAxisIndex: yi, data: tr.ticks.map(t => [t, 0]),
    symbol: 'rect', symbolSize: [1.6, o.tickLen || 10], itemStyle: { color: INK }, silent: true, clip: false, z: 5, animation: false });
  if (tr.bar) series.push({ type: 'line', xAxisIndex: xi, yAxisIndex: yi,
    data: [[tr.bar[0], tr.bar[1] - o.base], [tr.bar[0], tr.bar[2] - o.base]], symbol: 'none', clip: false, silent: true,
    lineStyle: { color: INK, width: 3.4 }, z: 5, animation: false });
  if (tr.axisTicks) series.push({ type: 'scatter', xAxisIndex: xi, yAxisIndex: yi, clip: false,
    data: tr.axisTicks.map(t => ({ value: [o.center, t.v - o.base], label: { show: !!t.label, formatter: t.label || ' ' } })),
    symbol: 'rect', symbolSize: [o.axisTickW || 10, 1.6], itemStyle: { color: INK }, silent: true, z: 5, animation: false,
    label: { position: o.axisLabelPos, distance: 4, color: INK, fontSize: o.axisFont || 11, fontWeight: o.axisBold ? 'bold' : 'normal', fontFamily: FONT } });
  return yi;
}

function buildLined(p) {
  const gi = grids.length, xi = xAxes.length;
  const top = p.box[1], bottom = p.box[3];
  grids.push({ left: p.box[0], top: top, width: p.right - p.box[0], height: bottom - top });
  xAxes.push({ gridIndex: gi, type: 'value', min: 0, max: p.xMax, show: false });
  const line0 = p.linePx[0];
  const sp = (p.linePx[p.linePx.length - 1] - line0) / (p.linePx.length - 1);
  const pos = p.linePx.map(y => (y - line0) / sp);
  const T = (top - line0) / sp, B = (bottom - line0) / sp;
  const mainY = yAxes.length;
  yAxes.push({ gridIndex: gi, type: 'value', inverse: true, min: T, max: B, show: false });
  const ml = p.labels.map((t, i) => t ? { yAxis: pos[i], label: { show: true, formatter: t } } : { yAxis: pos[i], label: { show: false } });
  ml.push({ xAxis: p.center, label: { show: false } });
  series.push({ type: 'line', xAxisIndex: xi, yAxisIndex: mainY, data: [[0, 0]], symbol: 'none', showSymbol: false,
    lineStyle: { opacity: 0 }, silent: true, z: 5, animation: false,
    markLine: { silent: true, symbol: ['none', 'none'], animation: false,
      lineStyle: { color: INK, width: 1.3, type: 'solid' },
      label: { show: true, position: 'end', distance: 5, color: INK, fontSize: 18, fontFamily: FONT },
      data: ml } });
  graphics.push({ type: 'rect', shape: { x: p.box[0], y: p.box[1], width: p.box[2] - p.box[0], height: p.box[3] - p.box[1] },
    style: { fill: 'none', stroke: INK, lineWidth: 1.8 }, silent: true, z: 10 });
  p.traces.forEach((tr, k) => {
    const L = pos[p.baseLines[k]];
    tr.pattern = p.pattern;
    addTrace(xi, gi, (L - B) * p.upl, (L - T) * p.upl, tr, { base: p.base, below: p.below });
  });
}

function buildFree(p) {
  const gi = grids.length, xi = xAxes.length;
  grids.push({ left: p.left, top: p.top, width: p.right - p.left, height: p.bottom - p.top });
  xAxes.push({ gridIndex: gi, type: 'value', min: 0, max: p.xMax, show: false });
  const mainY = yAxes.length;
  yAxes.push({ gridIndex: gi, type: 'value', min: 0, max: 1, show: false });
  series.push({ type: 'line', xAxisIndex: xi, yAxisIndex: mainY, data: [[0, 0]], symbol: 'none', showSymbol: false,
    lineStyle: { opacity: 0 }, silent: true, z: 5, animation: false,
    markLine: { silent: true, symbol: ['none', 'none'], animation: false, label: { show: false },
      lineStyle: { color: INK, width: 1.7, type: 'solid' }, data: [{ xAxis: p.center }] } });
  p.traces.forEach((tr, k) => {
    const yb = p.baseY[k];
    addTrace(xi, gi, -(p.bottom - yb) / p.s, (yb - p.top) / p.s, tr,
      { base: p.base, below: false, hlines: p.hlines, center: p.center, axisLabelPos: p.axisLabelPos,
        axisTickW: p.axisTickW, axisFont: p.axisFont, axisBold: p.axisBold, tickLen: p.tickLen, lw: p.lw });
  });
}

// ---- panel a ----
const patA = hatch(7, 1, 1.15, '#1a1a1a');
buildLined({ box: [23, 7, 593, 477], right: 555.4, xMax: 134.5, center: 74, labels: A_LABELS,
  linePx: [40, 72.7, 104.3, 141.7, 170, 199, 233.3, 266.7, 296, 325, 359, 387.3, 415.7, 445],
  base: 314, upl: 1, below: true, pattern: patA, baseLines: [1, 3, 5, 7, 9, 11],
  traces: [
    { x: A_1640_X, v: A_1640_T, ticks: A_TICKS[0], bar: A_BARS[0] },
    { x: A_1648_X, v: A_1648_T, ticks: A_TICKS[1], bar: A_BARS[1] },
    { x: A_1652_X, v: A_1652_T, ticks: A_TICKS[2], bar: A_BARS[2] },
    { x: A_1700_X, v: A_1700_T, ticks: A_TICKS[3], bar: A_BARS[3] },
    { x: A_1706_X, v: A_1706_T, ticks: A_TICKS[4], bar: A_BARS[4] },
    { x: A_1721_X, v: A_1721_T, ticks: A_TICKS[5], bar: A_BARS[5] }] });

// ---- panel b ----
const patB = hatch(7, 1, 1.15, '#1a1a1a');
const bSeries = [[B_1640_X, B_1640_Q], [B_1648_X, B_1648_Q], [B_1652_X, B_1652_Q], [B_1700_X, B_1700_Q], [B_1706_X, B_1706_Q], [B_1721_X, B_1721_Q]];
buildLined({ box: [10.5, 581, 601, 1063], right: 571.7, xMax: 141.5, center: 75.3, labels: B_LABELS,
  linePx: [609.8, 638.0, 664.9, 692.9, 720.8, 752.7, 783.7, 812.9, 842.5, 876.9, 908.1, 941.8, 973.1, 1004.7, 1032.6],
  base: 7, upl: 1, below: false, pattern: patB, baseLines: [2, 4, 6, 8, 10, 12],
  traces: bSeries.map((s, k) => ({ x: s[0], v: s[1], ticks: B_TICKS[k], bar: B_BARS[k], hatch: B_HATCH[k] })) });

// ---- panel c ----
const patC = hatch(7, 1, 1.15, '#1a1a1a');
const cSeries = [[C_1640_X, C_1640_V], [C_1648_X, C_1648_V], [C_1652_X, C_1652_V], [C_1700_X, C_1700_V], [C_1706_X, C_1706_V], [C_1721_X, C_1721_V]];
buildLined({ box: [10.5, 1150, 601, 1586], right: 569.7, xMax: 142.5, center: 77, labels: C_LABELS,
  linePx: [1179.3, 1210, 1244.3, 1280, 1311.7, 1340, 1370, 1398.3, 1430, 1458.3, 1489.3, 1516.7, 1550.7],
  base: 2, upl: 2, below: false, pattern: patC, baseLines: [1, 3, 5, 7, 9, 11],
  traces: cSeries.map((s, k) => ({ x: s[0], v: s[1], ticks: C_TICKS[k], hatch: C_HATCH[k] })) });

// ---- panel d ----
const patD = hatch(4, 1, 1.2, '#262626');
const dSeries = [[D_1640_X, D_1640_T], [D_1648_X, D_1648_T], [D_1652_X, D_1652_T], [D_1700_X, D_1700_T], [D_1706_X, D_1706_T], [D_1721_X, D_1721_T]];
buildFree({ left: 657.4, right: 1244.2, top: 5, bottom: 802, xMax: 152, center: 79.5, base: 330, s: 24.5,
  baseY: [55.7, 183.3, 309.3, 431.7, 557.7, 682.7], hlines: [0, 2], axisLabelPos: 'right', axisTickW: 10, axisFont: 11, tickLen: 12, lw: 1.6,
  traces: dSeries.map((s, k) => ({ x: s[0], v: s[1], ticks: D_TICKS[k], bar: D_BARS[k], hatch: D_HATCH[k], pattern: patD,
    extra: k === 3 ? [{ x: D_1700B_X, v: D_1700B_T }] : [],
    axisTicks: D_AXIS[k].map(v => ({ v: v, label: (v === 331 || v === 329) ? String(v) : '' })) })) });

// ---- panel e ----
const patE = [hatch(9, -1, 1.4, '#181818', '#ffffff'), hatch(9, 1, 1.4, '#181818', '#ffffff'), hatch(9, -1, 1.4, '#181818', '#ffffff')];
const eSeries = [[E_1648_X, E_1648_W], [E_1700_X, E_1700_W], [E_1721_X, E_1721_W]];
buildFree({ left: 645.8, right: 1236.2, top: 917, bottom: 1582, xMax: 153.5, center: 74.2, base: 0, s: 25,
  baseY: [1172, 1327.7, 1482.4], hlines: [0], axisLabelPos: 'left', axisTickW: 12, axisFont: 11, axisBold: true, tickLen: 10, lw: 1.6,
  traces: eSeries.map((s, k) => ({ x: s[0], v: s[1], ticks: E_TICKS[k], hatch: E_HATCH[k], pattern: patE[k],
    axisTicks: E_AXIS[k].map(v => ({ v: v, label: String(v) })) })) });

// ---- texts ----
function txt(x, y, text, font, rich) {
  const st = { text: text, font: font, fill: INK, align: 'left', verticalAlign: 'middle' };
  if (rich) st.rich = rich;
  graphics.push({ type: 'text', x: x, y: y, silent: true, z: 20, style: st });
}
const F18 = '18px ' + FONT, F11 = '11px ' + FONT;
const ARR_L = '\u27f5', ARR_R = '\u27f6';
const arrowsABC = [0, 1, 0, 1, 0, 1];
function lab(t, right) { return right ? t + ' ' + ARR_R : ARR_L + t; }
[[383, 89], [417, 160], [389, 213], [403, 283], [417, 347], [435, 375]].forEach((p, k) => txt(p[0], p[1], lab(TIMES[k], arrowsABC[k]), F18));
[[399, 676], [437, 731], [405, 802], [407, 856], [449, 920], [417, 987]].forEach((p, k) => txt(p[0], p[1], lab(TIMES[k], arrowsABC[k]), F18));
[[373, 1228], [395, 1301], [407, 1348], [397, 1410], [436, 1445], [426, 1503]].forEach((p, k) => txt(p[0], p[1], lab(TIMES[k], arrowsABC[k]), F18));
const dLab = [TIMES[0] + '\u2190', '\u2192' + TIMES[1], TIMES[2] + '\u2190', '\u2192' + TIMES[3], TIMES[4] + '\u2190', '\u2192' + TIMES[5]];
[[1038, 71], [1036, 199], [1047, 323], [1024, 444], [1072, 572], [1051, 695]].forEach((p, k) => txt(p[0], p[1], dLab[k], F11));
[55.7, 183.3, 309.3, 431.7, 557.7, 682.7].forEach(y => txt(970, y + 9, '330', F11));
[[1005, 1186], [982, 1342], [1005, 1496]].forEach((p, k) => txt(p[0], p[1], '\u2190' + E_TIMES[k], 'bold 11px ' + FONT));
txt(373, 461, '15 JUNE 70', F18); txt(361, 1047, '15 JUNE 70', F18); txt(368, 1571, '15 JUNE 70', F18);
txt(352, 24, '\u03b8,\u00b0K', 'bold 16px ' + FONT);
const supR = (f) => ({ m: { font: 'bold ' + f + 'px ' + FONT, fill: INK, verticalAlign: 'bottom' },
  it: { font: 'italic bold ' + f + 'px ' + FONT, fill: INK, verticalAlign: 'bottom' },
  s: { font: 'bold ' + Math.round(f * 0.65) + 'px ' + FONT, fill: INK, verticalAlign: 'top' },
  b: { font: 'bold ' + Math.round(f * 0.65) + 'px ' + FONT, fill: INK, verticalAlign: 'bottom', padding: [0, 0, -3, 0] } });
txt(366, 594, '{m|q, gm kg}{s|-1}', 'bold 16px ' + FONT, supR(16));
txt(338, 1168, '{it|\u03c1\u03c1}{b|o}{s|-1}{m| \u03b5}{s|1/3}{m|, cm}{s|2/3}{m| sec}{s|-1}', 'bold 16px ' + FONT, supR(16));
txt(1103, 77, '{m|\u03b8}{b|E}{m|, \u00b0K}', 'bold 13px ' + FONT, supR(13));
txt(1059, 968, '{m|W, m sec}{s|-1}', 'bold 12px ' + FONT, supR(12));
txt(301, 508, 'a.', "bold 18px 'DejaVu Serif',serif");
txt(301, 1090, 'b.', "18px 'DejaVu Serif',serif");
txt(301, 1612, 'c.', "bold 18px 'DejaVu Serif',serif");
txt(936, 845, 'd.', "18px 'DejaVu Serif',serif");
txt(936, 1612, 'e.', "bold 18px 'DejaVu Serif',serif");

const chart = echarts.init(document.getElementById('c'), null, { renderer: 'canvas' });
chart.setOption({ animation: false, backgroundColor: '#ffffff', grid: grids, xAxis: xAxes, yAxis: yAxes, series: series, graphic: graphics });
</script></body></html>
